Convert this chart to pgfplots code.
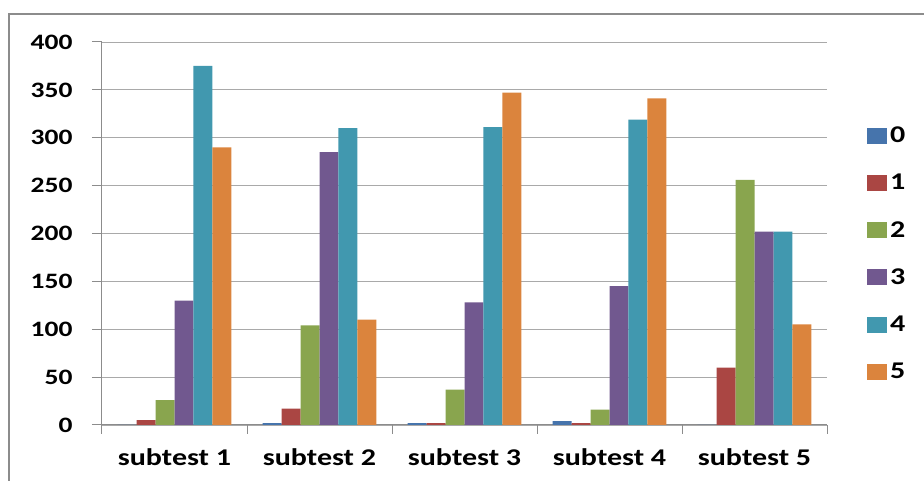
\documentclass[border=0pt]{standalone}
\usepackage{fontspec}
\usepackage{pgfplots}
\pgfplotsset{compat=1.18}
\newfontfamily\calfont{Carlito}[FakeStretch=1.25]

\definecolor{c0}{HTML}{4674AC}
\definecolor{c1}{HTML}{AA4643}
\definecolor{c2}{HTML}{89A54E}
\definecolor{c3}{HTML}{71588F}
\definecolor{c4}{HTML}{4198AF}
\definecolor{c5}{HTML}{DB843D}
\definecolor{frame}{HTML}{8C8C8C}

\pgfplotsset{
  sq/.style={fill=#1, draw=none,
    legend image code/.code={\fill[#1] (0pt,-8pt) rectangle (20pt,8pt);}},
}

\begin{document}
\begin{tikzpicture}[x=1pt,y=1pt]
\begin{axis}[
    at={(102pt,56pt)}, anchor=south west,
    scale only axis,
    width=725pt, height=383pt,
    ybar=0pt, bar width=0.131,
    xmin=-0.5, xmax=4.5,
    ymin=0, ymax=400,
    ytick={0,50,...,400},
    xtick={0,1,2,3,4},
    xticklabels={subtest 1,subtest 2,subtest 3,subtest 4,subtest 5},
    minor xtick={-0.5,0.5,...,4.5},
    axis x line*=bottom, axis y line*=left,
    axis line style={frame, line width=1pt},
    ymajorgrids, grid style={frame!75, line width=0.9pt},
    major x tick style={draw=none},
    minor x tick style={frame, line width=1pt},
    minor tick length=9pt,
    major y tick style={frame, line width=1pt},
    major tick length=10pt,
    tick align=outside,
    /pgf/number format/assume math mode=true,
    yticklabel style={font=\calfont\bfseries\fontsize{22}{26}\selectfont,
      anchor=east, xshift=-16pt},
    xticklabel style={font=\calfont\bfseries\fontsize{24}{28}\selectfont,
      anchor=base, yshift=-31pt},
    legend style={draw=none, fill=none, at={(1.055,0.786)}, anchor=north west,
      font=\calfont\bfseries\fontsize{24}{28}\selectfont,
      row sep=24pt, inner sep=0pt,
      nodes={inner sep=3pt}},
    legend cell align=left,
]
\addplot[sq=c0] coordinates {(0,0) (1,2) (2,2) (3,4) (4,0)};
\addplot[sq=c1] coordinates {(0,5) (1,17) (2,2) (3,2) (4,60)};
\addplot[sq=c2] coordinates {(0,26) (1,104) (2,37) (3,16) (4,256)};
\addplot[sq=c3] coordinates {(0,130) (1,285) (2,128) (3,145) (4,202)};
\addplot[sq=c4] coordinates {(0,375) (1,310) (2,311) (3,319) (4,202)};
\addplot[sq=c5] coordinates {(0,290) (1,110) (2,347) (3,341) (4,105)};
\legend{0,1,2,3,4,5}
\end{axis}
\draw[frame, line width=2pt] (9,-20) -- (9,467) -- (950,467);
\pgfresetboundingbox
\useasboundingbox (0,0) rectangle (924,481);
\end{tikzpicture}
\end{document}
